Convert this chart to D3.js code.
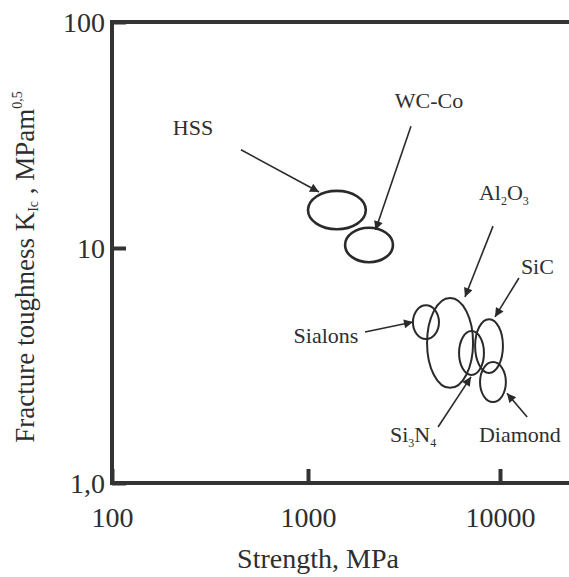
<!DOCTYPE html>
<html>

<head>
    <meta charset="UTF-8">
    <style>
        body {
            margin: 0;
            background-color: #fff;
        }

        .axis-line,
        .tick line {
            stroke: #333;
            stroke-width: 4;
        }

        .region {
            fill: none;
            stroke: #2a2a2a;
            stroke-width: 2;
        }

        .pointer {
            stroke: #2a2a2a;
            stroke-width: 1.6;
        }
    </style>
    <title>Fracture toughness vs strength</title>
</head>

<body>
    <svg id="chart" width="569" height="577"></svg>

    <script src="https://cdn.jsdelivr.net/npm/d3@7"></script>
    <script>
        // material regions (strength in MPa, toughness in MPa m^0.5)
        const materials = ["HSS", "WC-Co", "Sialons", "Al2O3", "Si3N4", "SiC", "Diamond"];
        const strengthMin = [1000, 1560, 3520, 4170, 6120, 7420, 7870];
        const strengthMax = [2000, 2770, 4810, 7240, 8250, 10360, 10730];
        const toughMin = [12.1, 8.7, 4.1, 2.54, 2.88, 2.94, 2.21];
        const toughMax = [17.9, 12.3, 5.7, 6.13, 4.43, 4.98, 3.27];

        // label anchors and pointer arrows, in data units
        const labelStrength = [259, 4270, 1241, 10482, 3524, 15660, 12690];
        const labelTough = [31.6, 41.6, 3.94, 16.3, 1.494, 7.75, 1.494];
        const arrowFrom = [[455, 27.2], [3438, 34.6], [1982, 4.39], [9197, 12.5], [4757, 1.73], [12550, 7.45], [13850, 1.91]];
        const arrowTo = [[1141, 17.7], [2247, 12.0], [3524, 4.84], [6570, 6.19], [7062, 2.83], [9420, 5.09], [10870, 2.41]];

        // axis ticks
        const xTicks = [100, 1000, 10000];
        const xTickLabels = ["100", "1000", "10000"];
        const yTicks = [1, 10, 100];
        const yTickLabels = ["1,0", "10", "100"];

        const width = 569;
        const serif = "'Liberation Serif', 'DejaVu Serif', serif";
        const ink = "#2e2e2e";
        const svg = d3.select("#chart");

        // the printed decades are not quite equal, so map each one
        const x = d3.scaleLog().domain(xTicks).range([112, 308, 500]);
        const y = d3.scaleLog().domain(yTicks).range([483, 248, 22]);

        // chemical formulas -> text pieces with subscripts
        function formulaParts(name) {
            return name.match(/[A-Za-z\-]+|\d+/g).map(p => ({ t: p, sub: /^\d+$/.test(p) }));
        }

        svg.append("defs").append("marker")
            .attr("id", "head")
            .attr("viewBox", "0 0 10 10")
            .attr("refX", 10)
            .attr("refY", 5)
            .attr("markerUnits", "userSpaceOnUse")
            .attr("markerWidth", 12)
            .attr("markerHeight", 9)
            .attr("orient", "auto")
            .append("path")
            .attr("d", "M0,0 L10,5 L0,10 Z")
            .style("fill", "#2a2a2a");

        // axes
        const xAxis = d3.axisBottom(x)
            .tickValues(xTicks)
            .tickFormat((d, i) => xTickLabels[i])
            .tickSizeInner(-14)
            .tickSizeOuter(0)
            .tickPadding(24);

        const yAxis = d3.axisLeft(y)
            .tickValues(yTicks)
            .tickFormat((d, i) => yTickLabels[i])
            .tickSizeInner(-14)
            .tickSizeOuter(0)
            .tickPadding(7);

        const gx = svg.append("g")
            .attr("transform", `translate(0,${y(1)})`)
            .call(xAxis);
        const gy = svg.append("g")
            .attr("transform", `translate(${x(100)},0)`)
            .call(yAxis);

        [gx, gy].forEach(g => {
            g.select(".domain").remove();
            g.attr("font-family", null).attr("font-size", null);
            g.selectAll("text")
                .style("font-family", serif)
                .style("font-size", "28px")
                .style("fill", ink);
        });
        gy.selectAll("text").attr("dy", "0.34em");

        // frame: left, top and bottom lines run off the right edge
        svg.append("line").attr("class", "axis-line")
            .attr("x1", x(100)).attr("x2", x(100))
            .attr("y1", y(100) - 2).attr("y2", y(1) + 2);
        svg.append("line").attr("class", "axis-line")
            .attr("x1", x(100) - 2).attr("x2", width)
            .attr("y1", y(100)).attr("y2", y(100));
        svg.append("line").attr("class", "axis-line")
            .attr("x1", x(100) - 2).attr("x2", width)
            .attr("y1", y(1)).attr("y2", y(1));

        // axis titles
        svg.append("text")
            .attr("x", 318)
            .attr("y", 568)
            .attr("text-anchor", "middle")
            .style("font-family", serif)
            .style("font-size", "28px")
            .style("fill", ink)
            .text("Strength, MPa");

        const yTitle = svg.append("text")
            .attr("transform", "translate(34,267) rotate(-90)")
            .attr("text-anchor", "middle")
            .style("font-family", serif)
            .style("font-size", "27px")
            .style("fill", ink);
        yTitle.append("tspan").text("Fracture toughness K");
        yTitle.append("tspan").text("Ic").style("font-size", "14px").attr("dy", 4);
        yTitle.append("tspan").text(" , MPam").attr("dy", -4);
        yTitle.append("tspan").text("0,5").style("font-size", "14px").attr("dy", -12);

        // material regions
        const regions = materials.map((m, i) => ({
            name: m,
            x0: strengthMin[i], x1: strengthMax[i],
            y0: toughMin[i], y1: toughMax[i]
        }));

        svg.selectAll("ellipse.region")
            .data(regions)
            .enter().append("ellipse")
            .attr("class", "region")
            .attr("cx", d => (x(d.x0) + x(d.x1)) / 2)
            .attr("cy", d => (y(d.y0) + y(d.y1)) / 2)
            .attr("rx", d => (x(d.x1) - x(d.x0)) / 2)
            .attr("ry", d => (y(d.y0) - y(d.y1)) / 2)
            .style("stroke-width", (d, i) => i < 2 ? 2.6 : 2);

        // pointers
        svg.selectAll("line.pointer")
            .data(materials)
            .enter().append("line")
            .attr("class", "pointer")
            .attr("x1", (d, i) => x(arrowFrom[i][0]))
            .attr("y1", (d, i) => y(arrowFrom[i][1]))
            .attr("x2", (d, i) => x(arrowTo[i][0]))
            .attr("y2", (d, i) => y(arrowTo[i][1]))
            .attr("marker-end", "url(#head)");

        // labels
        materials.forEach((m, i) => {
            const t = svg.append("text")
                .attr("x", x(labelStrength[i]))
                .attr("y", y(labelTough[i]))
                .attr("text-anchor", "middle")
                .style("font-family", serif)
                .style("font-size", "22px")
                .style("fill", ink);
            formulaParts(m).forEach((p, k, arr) => {
                const prevSub = k > 0 && arr[k - 1].sub;
                const span = t.append("tspan").text(p.t);
                if (p.sub) span.style("font-size", "12px").attr("dy", 5);
                else if (prevSub) span.attr("dy", -5);
            });
        });
    </script>
</body>

</html>
